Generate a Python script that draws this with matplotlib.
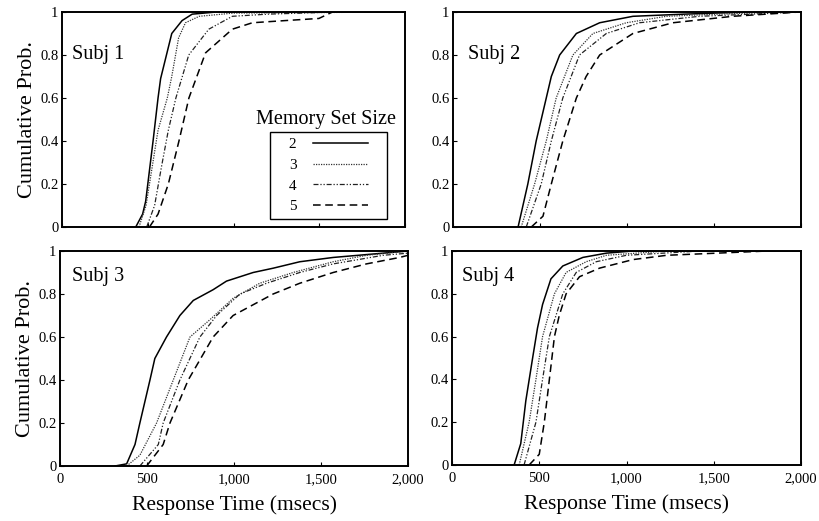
import matplotlib
matplotlib.use("Agg")
import matplotlib.pyplot as plt
from matplotlib.patches import Rectangle

plt.rcParams['font.family'] = ['Liberation Serif', 'DejaVu Serif']

set_sizes = ["2", "3", "4", "5"]
subjects = ["Subj 1", "Subj 2", "Subj 3", "Subj 4"]

# Response times (ms) and cumulative probabilities, per subject and memory set size
s1_rt = {
    "2": [430, 470, 488, 531, 560, 575, 640, 700, 759, 900, 2000],
    "3": [449, 490, 520, 560, 614, 640, 680, 720, 800, 1000, 2000],
    "4": [494, 540, 580, 620, 664, 739, 856, 993, 1200, 1600, 2000],
    "5": [510, 560, 620, 682, 740, 837, 993, 1110, 1300, 1498, 1577, 2000],
}
s1_p = {
    "2": [0, 0.06, 0.12, 0.40, 0.60, 0.69, 0.90, 0.96, 0.99, 1.0, 1.0],
    "3": [0, 0.10, 0.25, 0.45, 0.60, 0.70, 0.88, 0.95, 0.98, 0.995, 1.0],
    "4": [0, 0.10, 0.28, 0.45, 0.60, 0.80, 0.92, 0.98, 0.99, 1.0, 1.0],
    "5": [0, 0.06, 0.20, 0.40, 0.60, 0.81, 0.92, 0.95, 0.96, 0.97, 1.0, 1.0],
}

s2_rt = {
    "2": [374, 430, 478, 507, 565, 613, 709, 843, 1034, 1327, 1704, 2000],
    "3": [392, 469, 536, 593, 689, 804, 996, 1226, 1522, 1913, 2000],
    "4": [421, 507, 565, 631, 727, 881, 1072, 1417, 1718, 2000],
    "5": [450, 517, 565, 631, 709, 765, 843, 1034, 1264, 1608, 1992, 2000],
}
s2_p = {
    "2": [0, 0.20, 0.40, 0.50, 0.70, 0.80, 0.90, 0.95, 0.98, 0.99, 1.0, 1.0],
    "3": [0, 0.20, 0.40, 0.60, 0.80, 0.90, 0.95, 0.98, 0.99, 1.0, 1.0],
    "4": [0, 0.20, 0.40, 0.60, 0.80, 0.90, 0.95, 0.98, 0.99, 1.0],
    "5": [0, 0.05, 0.20, 0.40, 0.60, 0.70, 0.80, 0.90, 0.95, 0.98, 1.0, 1.0],
}

s3_rt = {
    "2": [316, 383, 431, 459, 517, 545, 612, 689, 766, 880, 957, 1110, 1225, 1378, 1570, 1857, 2000],
    "3": [383, 459, 555, 651, 747, 861, 995, 1148, 1340, 1570, 1761, 2000],
    "4": [459, 565, 593, 689, 804, 900, 1034, 1187, 1378, 1570, 1857, 2000],
    "5": [498, 593, 632, 737, 880, 995, 1225, 1378, 1570, 1761, 1952, 2000],
}
s3_p = {
    "2": [0, 0.01, 0.10, 0.20, 0.40, 0.50, 0.60, 0.70, 0.77, 0.82, 0.86, 0.90, 0.92, 0.95, 0.97, 0.99, 1.0],
    "3": [0, 0.05, 0.20, 0.40, 0.60, 0.68, 0.78, 0.85, 0.90, 0.95, 0.98, 1.0],
    "4": [0, 0.10, 0.20, 0.40, 0.60, 0.70, 0.80, 0.85, 0.90, 0.94, 0.98, 0.99],
    "5": [0, 0.10, 0.20, 0.40, 0.60, 0.70, 0.80, 0.85, 0.90, 0.94, 0.97, 0.98],
}

s4_rt = {
    "2": [356, 394, 423, 462, 490, 519, 567, 635, 750, 885, 1038, 2000],
    "3": [385, 442, 481, 519, 587, 654, 769, 885, 1231, 2000],
    "4": [413, 481, 519, 558, 635, 712, 827, 1000, 1423, 2000],
    "5": [442, 500, 529, 558, 587, 615, 654, 731, 846, 1038, 1231, 1808, 2000],
}
s4_p = {
    "2": [0, 0.10, 0.30, 0.50, 0.64, 0.75, 0.87, 0.93, 0.97, 0.99, 1.0, 1.0],
    "3": [0, 0.20, 0.40, 0.60, 0.80, 0.90, 0.95, 0.98, 1.0, 1.0],
    "4": [0, 0.20, 0.40, 0.60, 0.80, 0.90, 0.95, 0.98, 1.0, 1.0],
    "5": [0, 0.05, 0.20, 0.40, 0.60, 0.70, 0.80, 0.88, 0.92, 0.96, 0.98, 1.0, 1.0],
}

all_rt = [s1_rt, s2_rt, s3_rt, s4_rt]
all_p = [s1_p, s2_p, s3_p, s4_p]

x_ticks = [0, 500, 1000, 1500, 2000]
x_tick_labels = ["0", "500", "1,000", "1,500", "2,000"]
y_ticks = [0, 0.2, 0.4, 0.6, 0.8, 1]
y_tick_labels = ["0", "0.2", "0.4", "0.6", "0.8", "1"]

styles = {
    "2": dict(linestyle="-", color="black", lw=1.1),
    "3": dict(linestyle=(0, (1, 1)), color="#333333", lw=0.9),
    "4": dict(linestyle=(0, (4, 1.5, 1, 1.5, 1, 1.5)), color="#222222", lw=0.9),
    "5": dict(linestyle=(0, (5, 3)), color="black", lw=1.1),
}

W, H = 819, 521
fig = plt.figure(figsize=(W / 100, H / 100), dpi=100)

# axes rectangles in pixels: left, top, right, bottom
rects = [(62, 12, 405, 227), (453, 12, 801, 227),
         (60, 251, 408, 466), (452, 251, 801, 465)]
label_pos = [(0.03, 0.80), (0.043, 0.80), (0.035, 0.88), (0.03, 0.88)]

axes = []
for i, (l, t, r, b) in enumerate(rects):
    ax = fig.add_axes([l / W, 1 - b / H, (r - l) / W, (b - t) / H])
    axes.append(ax)
    for s in set_sizes:
        ax.plot(all_rt[i][s], all_p[i][s], label=s, **styles[s])
    ax.set_xlim(0, 2000)
    ax.set_ylim(0, 1)
    ax.set_xticks(x_ticks)
    ax.set_yticks(y_ticks)
    ax.set_yticklabels(y_tick_labels, fontsize=10.5)
    if i >= 2:
        ax.set_xticklabels(x_tick_labels, fontsize=10.5)
        ax.set_xlabel("Response Time (msecs)", fontsize=15.5, labelpad=7)
    else:
        ax.set_xticklabels([])
    if i % 2 == 0:
        ax.set_ylabel("Cumulative Prob.", fontsize=16, labelpad=2)
    ax.tick_params(direction="in", length=3, width=0.8, pad=2.5)
    ax.tick_params(axis="x", pad=5)
    for sp in ax.spines.values():
        sp.set_linewidth(1.4)
    ax.text(label_pos[i][0], label_pos[i][1], subjects[i], transform=ax.transAxes,
            fontsize=14.5, ha="left", va="center")

ax0 = axes[0]
ax0.add_patch(Rectangle((0.606, 0.037), 0.342, 0.405, transform=ax0.transAxes,
                        fill=False, edgecolor="black", linewidth=1.0, zorder=5))
leg = ax0.legend(loc="center", bbox_to_anchor=(0.777, 0.24),
                 markerfirst=False, frameon=False, fontsize=11,
                 handlelength=3.6, labelspacing=0.45, borderpad=0.0,
                 handletextpad=1.1, borderaxespad=0)
ax0.text(0.77, 0.50, "Memory Set Size", transform=ax0.transAxes,
         fontsize=14.5, ha="center", va="center")

fig.savefig("out.png", dpi=100)
